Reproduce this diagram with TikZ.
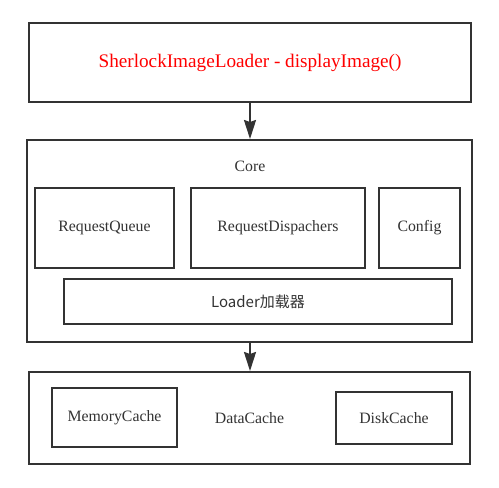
\documentclass[tikz,border=0pt]{standalone}
\usepackage{fontspec}
\setmainfont{Liberation Serif}
\newfontfamily\cjk{Noto Sans CJK SC}
\usetikzlibrary{arrows.meta}
\definecolor{linegray}{HTML}{333333}
\definecolor{titlered}{HTML}{FF0000}
\tikzset{
  block/.style={draw=linegray, line width=2pt, fill=white, inner sep=0pt,
    text=linegray, font=\fontsize{15.8}{18}\selectfont},
  flow/.style={draw=linegray, line width=2pt,
    -{Stealth[length=19pt, width=12pt, inset=2pt]}}
}
\begin{document}
\begin{tikzpicture}[x=1pt, y=-1pt]
            \useasboundingbox (0,0) rectangle (499,488);

            % ==== ENTRY ====
            \node[block, minimum width=442pt, minimum height=79pt, text=titlered, font=\fontsize{19.2}{22}\selectfont] (entry) at (250,62.5) {SherlockImageLoader - displayImage()};

            % ==== CORE ====
            \node[block, minimum width=445pt, minimum height=202pt] (core) at (249.5,241) {};
            \node[text=linegray, font=\fontsize{15.8}{18}\selectfont] (corelabel) at (250,166) {Core};
            \node[block, minimum width=139pt, minimum height=80pt] (queue) at (104.5,228) {RequestQueue};
            \node[block, minimum width=174pt, minimum height=80pt] (dispatch) at (278,228) {RequestDispachers};
            \node[block, minimum width=81pt, minimum height=80pt] (config) at (419.5,228) {Config};
            \node[block, minimum width=388pt, minimum height=45pt, font=\cjk\fontsize{15}{18}\selectfont] (loader) at (258,301.5) {Loader加载器};

            % ==== DATA CACHE ====
            \node[block, minimum width=441pt, minimum height=92pt] (cache) at (249.5,418) {DataCache};
            \node[block, minimum width=125pt, minimum height=59pt] (memory) at (114.5,417.5) {MemoryCache};
            \node[block, minimum width=116pt, minimum height=52pt] (disk) at (394,418) {DiskCache};

            % ==== ARROWS ====
            \draw[flow] (entry.south) -- (entry.south |- core.north);
            \draw[flow] (entry.south |- core.south) -- (entry.south |- cache.north);
        \end{tikzpicture}
\end{document}
